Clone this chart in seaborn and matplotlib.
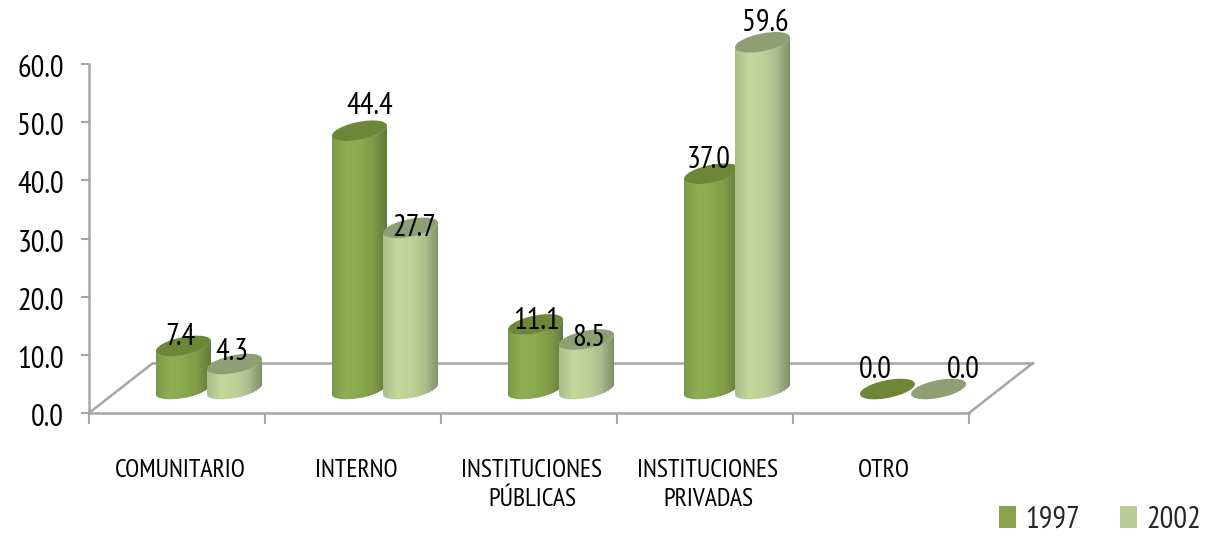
import numpy as np
import pandas as pd
import matplotlib
matplotlib.use("Agg")
import matplotlib.pyplot as plt
from matplotlib.patches import Polygon, Patch
from matplotlib.colors import LinearSegmentedColormap
from matplotlib.transforms import ScaledTranslation
import seaborn as sns

categories = ["COMUNITARIO", "INTERNO", "INSTITUCIONES\nPÚBLICAS", "INSTITUCIONES\nPRIVADAS", "OTRO"]
values_1997 = [7.4, 44.4, 11.1, 37.0, 0.0]
values_2002 = [4.3, 27.7, 8.5, 59.6, 0.0]
series_names = ["1997", "2002"]
y_ticks = [0, 10, 20, 30, 40, 50, 60]

nudge_1997 = [(-3, 9), (10, 25), (1, 3), (-3, 14), (-12, 19)]
nudge_2002 = [(-3, 12), (4, 0), (2, 2), (3, 20), (25, 19)]

GREY = "#A6A6A6"
palette = {"1997": "#88A44B", "2002": "#B9CD96"}
top_col = {"1997": "#6C8738", "2002": "#8E9F74"}
ramps = {
    "1997": ["#7C9A44", "#8FAE55", "#8BA94F", "#7E9B45", "#64793A"],
    "2002": ["#A9BD88", "#C3D69F", "#BFD29A", "#AEBF8E", "#7F8F68"],
}

df = pd.DataFrame({
    "cat": categories * 2,
    "val": values_1997 + values_2002,
    "year": [series_names[0]] * 5 + [series_names[1]] * 5,
})

sns.set_theme(style="white")
plt.rcParams["font.family"] = ["PT Sans Narrow", "Lato", "Liberation Sans", "DejaVu Sans"]

W, H = 1208, 537
fig = plt.figure(figsize=(W / 100, H / 100), dpi=100)
ax = fig.add_axes([89 / W, (H - 413) / H, 880 / W, 413 / H])

sns.barplot(data=df, x="cat", y="val", hue="year", hue_order=series_names, palette=palette,
            order=categories, width=0.58, gap=0, legend=False, ax=ax, zorder=3)
px_x = 880 / 5
px_y = 349 / 60
y_top = 413 / px_y
ax.set_xlim(-0.5, 4.5)
ax.set_ylim(0, y_top)
ax.set_xlabel("")
ax.set_ylabel("")

depth_x = 32 / px_x
base_y = 24 / px_y
radius = 27.5
rise = 5.0
minor = 9.0

t = np.linspace(0, 2 * np.pi, 121)
half = np.linspace(np.pi, 2 * np.pi, 61)


def ring(cx, cy, tt):
    return np.column_stack([
        cx + radius * np.cos(tt) / px_x,
        cy + (rise * np.cos(tt) + minor * np.sin(tt)) / px_y,
    ])


dx_back = 64 / px_x
y_back = 50 / px_y
floor_kw = dict(color=GREY, lw=1.8, clip_on=False, zorder=1, solid_capstyle="round")
ax.plot([-0.5 + dx_back, 4.5 + dx_back], [y_back, y_back], **floor_kw)
ax.plot([-0.5, -0.5 + dx_back], [0, y_back], **floor_kw)
ax.plot([4.5, 4.5 + dx_back], [0, y_back], **floor_kw)

n = len(categories)
bars = list(ax.patches)
order = sorted(range(len(bars)), key=lambda k: (k % n, k // n))
for k in order:
    bar = bars[k]
    year = series_names[k // n]
    value = bar.get_height()
    cx = bar.get_x() + bar.get_width() / 2 + depth_x
    cy0 = base_y
    cy1 = base_y + value
    z = 3 + 0.1 * (k % n) + 0.01 * (k // n)
    bar.set_edgecolor("none")
    bar.set_x(cx - radius / px_x)
    bar.set_width(2 * radius / px_x)
    bar.set_zorder(z)
    if value > 0:
        bar.set_y(cy0 - minor / px_y)
        bar.set_height(value + 2 * minor / px_y)
        outline = np.vstack([ring(cx, cy0, half), ring(cx, cy1, half[::-1])])
        body = Polygon(outline, closed=True, transform=ax.transData, fc="none", ec="none")
        ax.add_patch(body)
        bar.set_clip_path(body)
        cmap = LinearSegmentedColormap.from_list("c", ramps[year])
        im = ax.imshow(np.linspace(0, 1, 128)[None, :], cmap=cmap, aspect="auto", vmin=0, vmax=1,
                       extent=[cx - radius / px_x, cx + radius / px_x, cy0 - 3, cy1 + 3], zorder=z + 0.001)
        im.set_clip_path(body)
    else:
        bar.set_y(cy0)
        bar.set_height(0)
    ax.add_patch(Polygon(ring(cx, cy1, t), closed=True, fc=top_col[year], ec="none", zorder=z + 0.002))
    dx, dy = (nudge_1997 if k // n == 0 else nudge_2002)[k % n]
    vals = values_1997 if k // n == 0 else values_2002
    ax.annotate(f"{vals[k % n]:.1f}", (cx, cy1), xytext=(dx * 0.72, dy * 0.72), textcoords="offset points",
                ha="center", va="center", fontsize=22, color="black", zorder=10, annotation_clip=False)

ax.set_xlim(-0.5, 4.5)
ax.set_ylim(0, y_top)

for side in ["top", "right"]:
    ax.spines[side].set_visible(False)
for side in ["left", "bottom"]:
    ax.spines[side].set_color(GREY)
    ax.spines[side].set_linewidth(1.8)
    ax.spines[side].set_zorder(2)
ax.spines["left"].set_bounds(0, 60)
ax.set_yticks(y_ticks)
ax.set_yticklabels([f"{v:.1f}" for v in y_ticks])
ax.tick_params(axis="y", left=True, length=6, width=1.5, color=GREY, pad=12, labelsize=22, labelcolor="black")
shift_down = ScaledTranslation(0, -2 / 100, fig.dpi_scale_trans)
for lab in ax.get_yticklabels():
    lab.set_transform(lab.get_transform() + shift_down)
ax.set_xticks(np.arange(-0.5, 5, 1))
ax.set_xticklabels([])
ax.tick_params(axis="x", which="major", bottom=True, length=8, width=1.5, color=GREY)
ax.set_xticks(np.arange(n) + 0.017, labels=categories, minor=True)
ax.tick_params(axis="x", which="minor", bottom=False, pad=29, labelsize=18.5, labelcolor="black")
for lab in ax.get_xticklabels(minor=True):
    lab.set_linespacing(1.35)
    lab.set_va("top")

handles = [Patch(fc=palette[s], ec="none", label=s) for s in series_names]
fig.legend(handles=handles, loc="lower right", bbox_to_anchor=(1204 / W, 0), ncol=2, frameon=False,
           fontsize=22, handlelength=0.56, handleheight=0.72, handletextpad=0.3, columnspacing=1.3,
           borderaxespad=0, borderpad=0.1)

fig.savefig("out.png", dpi=100, facecolor="white")
